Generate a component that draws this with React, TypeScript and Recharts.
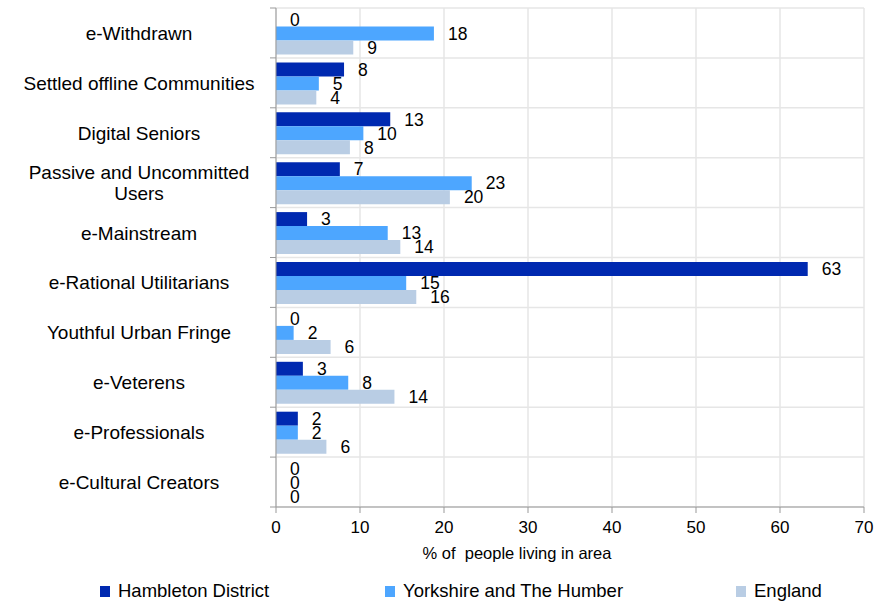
import { BarChart, Bar, XAxis, YAxis, CartesianGrid, LabelList, Legend } from 'recharts';

const categories = [
    'e-Withdrawn',
    'Settled offline Communities',
    'Digital Seniors',
    'Passive and Uncommitted Users',
    'e-Mainstream',
    'e-Rational Utilitarians',
    'Youthful Urban Fringe',
    'e-Veterens',
    'e-Professionals',
    'e-Cultural Creators',
];

const hambleton = [0, 8.1, 13.6, 7.6, 3.7, 63.3, 0, 3.2, 2.6, 0];
const yorkshire = [18.8, 5.1, 10.4, 23.3, 13.3, 15.5, 2.1, 8.6, 2.6, 0];
const england = [9.2, 4.8, 8.8, 20.7, 14.8, 16.7, 6.5, 14.1, 6.0, 0];

const xTicks = [0, 10, 20, 30, 40, 50, 60, 70];

const seriesNames = ['Hambleton District', 'Yorkshire and The Humber', 'England'];
const seriesColors = ['#0029B0', '#4DA6FF', '#B9CDE4'];

const rows = categories.map((name, i) => ({
    name,
    hambleton: hambleton[i],
    yorkshire: yorkshire[i],
    england: england[i],
}));

const FONT = '"Liberation Sans", Arial, sans-serif';

// long names go on two lines, like the original
const splitName = (s: string) => {
    if (s.length <= 28) return [s];
    const cut = s.lastIndexOf(' ');
    return [s.slice(0, cut), s.slice(cut + 1)];
};

const CategoryTick = (props: any) => {
    const { x, y, payload, index } = props;
    const half = payload && payload.offset ? payload.offset : 24.95;
    const lines = splitName(String(payload.value));
    const lh = 21;
    const startY = y - ((lines.length - 1) * lh) / 2;
    return (
        <g>
            <line x1={x - 6} x2={x} y1={y - half} y2={y - half} stroke="#999" />
            {index === categories.length - 1 && <line x1={x - 6} x2={x} y1={y + half} y2={y + half} stroke="#999" />}
            <text
                x={x - 137}
                y={startY}
                textAnchor="middle"
                dominantBaseline="central"
                style={{ fontFamily: FONT, fontSize: 19, fill: '#000' }}
            >
                {lines.map((l, i) => (
                    <tspan key={i} x={x - 137} y={startY + i * lh}>
                        {l}
                    </tspan>
                ))}
            </text>
        </g>
    );
};

const legendLeft = [100, 385, 736];

const ChartLegend = () => (
    <div style={{ position: 'relative', width: 883, height: 30, fontFamily: FONT, fontSize: 18.5 }}>
        {seriesNames.map((n, i) => (
            <div
                key={n}
                style={{ position: 'absolute', left: legendLeft[i], top: 10, height: 20, display: 'flex', alignItems: 'center' }}
            >
                <span style={{ display: 'inline-block', width: 10, height: 11, background: seriesColors[i], marginRight: 8 }} />
                <span style={{ color: '#000', lineHeight: '20px' }}>{n}</span>
            </div>
        ))}
    </div>
);

const labelStyle = { fontFamily: FONT, fontSize: 17.5, fill: '#000' };
const floorLabel = (v: any) => String(Math.floor(Number(v)));

export default function App() {
    return (
        <div style={{ position: 'absolute', left: 0, top: 0, width: 883, height: 601, background: '#fff', fontFamily: FONT }}>
            <BarChart
                width={883}
                height={601}
                data={rows}
                layout="vertical"
                margin={{ top: 8, right: 19, bottom: 0, left: 0 }}
                barCategoryGap="9%"
                barGap={0}
            >
                <CartesianGrid
                    stroke="#e6e6e6"
                    strokeWidth={1.5}
                    horizontalCoordinatesGenerator={({ offset }: any) =>
                        [...categories, ''].map((_, i) => offset.top + (i * offset.height) / categories.length)
                    }
                />
                <XAxis
                    type="number"
                    domain={[0, 70]}
                    ticks={xTicks}
                    interval={0}
                    height={64}
                    tickSize={6}
                    tickMargin={8}
                    stroke="#999"
                    tick={{ fill: '#000', fontSize: 17, fontFamily: FONT }}
                    label={{
                        content: ({ viewBox }: any) => (
                            <text
                                x={viewBox.x + viewBox.width / 2 - 53}
                                y={viewBox.y + viewBox.height - 12}
                                textAnchor="middle"
                                style={{ fontFamily: FONT, fontSize: 16.5, fill: '#000', whiteSpace: 'pre' }}
                            >
                                % of  people living in area
                            </text>
                        ),
                    }}
                />
                <YAxis
                    type="category"
                    dataKey="name"
                    width={276}
                    stroke="#999"
                    tickLine={false}
                    tickSize={0}
                    tickMargin={0}
                    interval={0}
                    tick={<CategoryTick />}
                />
                <Legend verticalAlign="bottom" content={<ChartLegend />} wrapperStyle={{ left: 0, width: 883 }} />
                <Bar dataKey="hambleton" name={seriesNames[0]} fill={seriesColors[0]} minPointSize={0.01} isAnimationActive={false}>
                    <LabelList dataKey="hambleton" position="right" offset={14} formatter={floorLabel} style={labelStyle} />
                </Bar>
                <Bar dataKey="yorkshire" name={seriesNames[1]} fill={seriesColors[1]} minPointSize={0.01} isAnimationActive={false}>
                    <LabelList dataKey="yorkshire" position="right" offset={14} formatter={floorLabel} style={labelStyle} />
                </Bar>
                <Bar dataKey="england" name={seriesNames[2]} fill={seriesColors[2]} minPointSize={0.01} isAnimationActive={false}>
                    <LabelList dataKey="england" position="right" offset={14} formatter={floorLabel} style={labelStyle} />
                </Bar>
            </BarChart>
        </div>
    );
}
